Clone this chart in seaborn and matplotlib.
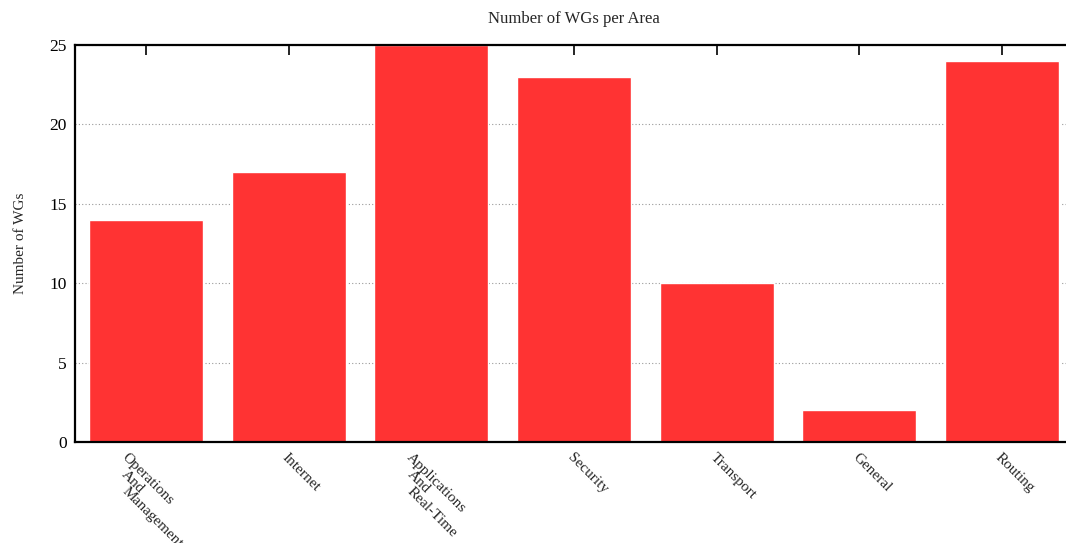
import matplotlib
matplotlib.use("Agg")
import matplotlib.pyplot as plt
import seaborn as sns
import pandas as pd

areas = ["Operations\nAnd\nManagement", "Internet", "Applications\nAnd\nReal-Time",
         "Security", "Transport", "General", "Routing"]
wg_counts = [14, 17, 25, 23, 10, 2, 24]
y_ticks = [0, 5, 10, 15, 20, 25]

sns.set_theme(style="white")
plt.rcParams["font.family"] = ["Liberation Serif", "DejaVu Serif"]

df = pd.DataFrame({"area": areas, "wgs": wg_counts})

W, H = 1066, 543
PX = 72 / 100  # points per pixel at 100 dpi
fig = plt.figure(figsize=(W / 100, H / 100), dpi=100)
# axes box in pixels: left 75, top 45, bottom 442; right edge runs past the canvas
left, top, bottom = 75, 45, 442
right = 1073
ax = fig.add_axes([left / W, 1 - bottom / H, (right - left) / W, (bottom - top) / H])

sns.barplot(data=df, x="area", y="wgs", color="#ff3333", saturation=1,
            width=0.8, ax=ax, zorder=2)

ax.set_xlim(-0.5, len(areas) - 0.5)
ax.set_ylim(0, 25)
ax.set_yticks(y_ticks)
ax.yaxis.grid(True, linestyle=(0, (1, 2)), color="#999999", linewidth=0.8, zorder=0)
ax.set_axisbelow(True)

for s in ax.spines.values():
    s.set_color("black")
    s.set_linewidth(1.6)

ax.tick_params(axis="y", direction="in", length=7, width=1.2, labelsize=12.5,
               pad=6, colors="black", right=False)
ax.tick_params(axis="x", direction="in", length=7, width=1.2,
               top=True, bottom=False, labelbottom=False, colors="black")
ax.set_xticks(range(len(areas)))

# category names: rotated, with extra lines stacked straight down
for i, name in enumerate(areas):
    lines = name.split("\n")
    dx = -7 if len(lines) == 1 else -25
    for j, line in enumerate(lines):
        ax.annotate(line, xy=(i, 0), xycoords=("data", "axes fraction"),
                    xytext=((dx + 7) * PX, (-9 - 17 * j) * PX),
                    textcoords="offset points", rotation=-45,
                    ha="left", va="top", rotation_mode="anchor",
                    fontsize=11, annotation_clip=False)

ax.set_xlabel("")
ax.set_ylabel("Number of WGs", fontsize=11, labelpad=16)
fig.text(574 / W, 1 - 19 / H, "Number of WGs per Area", ha="center", va="center",
         fontsize=12)

fig.savefig("out.png", dpi=100)
